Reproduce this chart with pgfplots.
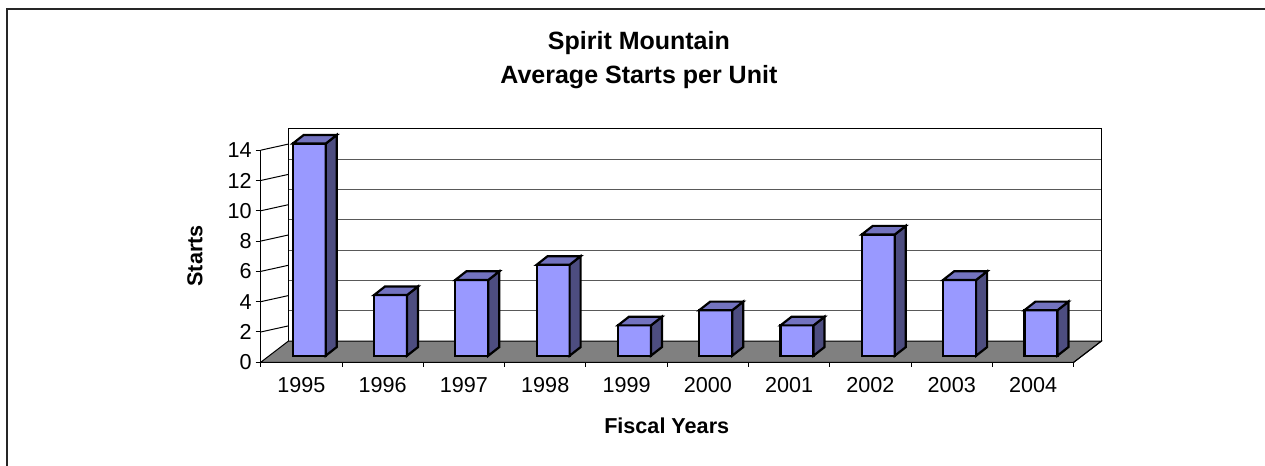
\documentclass[border=0pt]{standalone}
\usepackage{pgfplots}
\pgfplotsset{compat=1.18}
\usepackage{pgfplotstable}
\usepackage{fontspec}
\setmainfont{Liberation Sans}
\definecolor{barfront}{HTML}{9999FF}
\definecolor{barside}{HTML}{4D4D80}
\definecolor{bartop}{HTML}{7373BF}
\definecolor{floorgray}{HTML}{808080}

\pgfplotstableread{
idx v
0 14
1 4
2 5
3 6
4 2
5 3
6 2
7 8
8 5
9 3
}\starts

\begin{document}
\begin{tikzpicture}
\useasboundingbox (0,0) rectangle (632.5pt,233pt);
\draw[black!85, line width=0.9pt] (3.35pt,-2pt) -- (3.35pt,228.35pt) -- (640pt,228.35pt);
\begin{axis}[
  at={(130.35pt,51.85pt)}, anchor=south west,
  x=40.65pt, y=7.575pt,
  xmin=0, xmax=10.342, ymin=0, ymax=15.405,
  enlargelimits=false, clip=false,
  axis lines*=left, axis line style={draw=none},
  major tick length=0pt,
  xtick={0.5,1.5,2.5,3.5,4.5,5.5,6.5,7.5,8.5,9.5},
  xticklabels={1995,1996,1997,1998,1999,2000,2001,2002,2003,2004},
  ytick={0,2,4,6,8,10,12,14},
  tick label style={font=\fontsize{10.8}{13}\selectfont, inner sep=0pt},
  xticklabel style={anchor=north, yshift=-7.5pt},
  yticklabel style={anchor=east, xshift=-4.35pt},
  /pgf/number format/assume math mode=true,
  xlabel={Fiscal Years}, ylabel={Starts},
  label style={font=\bfseries\fontsize{10.8}{13}\selectfont, inner sep=0pt},
  xlabel style={at={(axis description cs:0.4829,-0.272)}, anchor=center},
  ylabel style={at={(axis description cs:-0.0781,0.4557)}, anchor=center},
]
% floor
\addplot[draw=black, line width=0.5pt, fill=floorgray] coordinates {(0,0)(10,0)(10.342,1.405)(0.342,1.405)} --cycle;
% back wall gridlines
\addplot[black!65, line width=0.6pt] coordinates {(0.342,3.405)(10.342,3.405)};
\addplot[black!65, line width=0.6pt] coordinates {(0.342,5.405)(10.342,5.405)};
\addplot[black!65, line width=0.6pt] coordinates {(0.342,7.405)(10.342,7.405)};
\addplot[black!65, line width=0.6pt] coordinates {(0.342,9.405)(10.342,9.405)};
\addplot[black!65, line width=0.6pt] coordinates {(0.342,11.405)(10.342,11.405)};
\addplot[black!65, line width=0.6pt] coordinates {(0.342,13.405)(10.342,13.405)};
% back wall outline
\addplot[black, line width=0.5pt] coordinates {(0.342,1.405)(0.342,15.405)(10.342,15.405)(10.342,1.405)};
% left wall diagonals
\pgfplotsinvokeforeach{2,4,6,8,10,12,14}{%
  \addplot[black, line width=0.5pt] coordinates {(0,#1)(0.342,#1.405)};
}
% front y axis
\addplot[black, line width=0.5pt] coordinates {(0,0)(0,14)};
% y tick marks
\pgfplotsinvokeforeach{0,2,4,6,8,10,12,14}{%
  \addplot[black, line width=0.5pt] coordinates {(-0.0615,#1)(0,#1)};
}
% x tick marks
\pgfplotsinvokeforeach{0,1,2,3,4,5,6,7,8,9,10}{%
  \addplot[black, line width=0.5pt] coordinates {(#1,0)(#1,-0.33)};
}
% floor right edge
\addplot[black, line width=0.5pt] coordinates {(10,0)(10.342,1.405)};
% bars
\pgfplotsforeachungrouped \i in {0,...,9}{%
  \pgfplotstablegetelem{\i}{v}\of\starts
  \pgfmathsetmacro\xa{\i+0.394}%
  \pgfmathsetmacro\xb{\i+0.800}%
  \pgfmathsetmacro\xc{\i+0.935}%
  \pgfmathsetmacro\xd{\i+0.529}%
  \pgfmathsetmacro\yb{0.436+\pgfplotsretval}%
  \pgfmathsetmacro\yc{\yb+0.568}%
  \edef\barcmd{%
    \noexpand\addplot[draw=black, line width=1.1pt, fill=barfront] coordinates {(\xa,0.436)(\xb,0.436)(\xb,\yb)(\xa,\yb)} --cycle;
    \noexpand\addplot[draw=black, line width=1.1pt, fill=barside] coordinates {(\xb,0.436)(\xc,1.004)(\xc,\yc)(\xb,\yb)} --cycle;
    \noexpand\addplot[draw=black, line width=1.1pt, fill=bartop] coordinates {(\xa,\yb)(\xb,\yb)(\xc,\yc)(\xd,\yc)} --cycle;
  }\barcmd
}
\end{axis}
\node[font=\bfseries\fontsize{12.5}{15}\selectfont, anchor=base, inner sep=0pt] at (319.45pt,208.35pt) {Spirit Mountain};
\node[font=\bfseries\fontsize{12.5}{15}\selectfont, anchor=base, inner sep=0pt] at (319.45pt,191.35pt) {Average Starts per Unit};
\end{tikzpicture}
\end{document}
